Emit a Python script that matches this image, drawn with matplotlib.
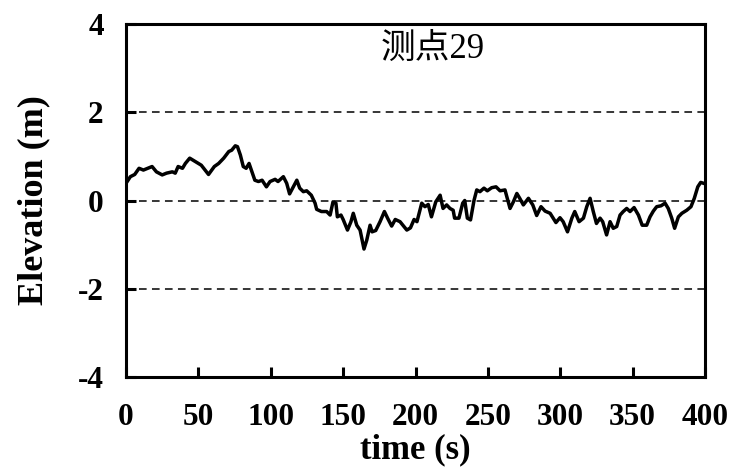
import matplotlib
matplotlib.use('Agg')
import matplotlib.pyplot as plt

# time (s) and elevation (m)
times = [0, 3, 6, 9, 12, 15, 18, 21, 25, 28, 32, 34, 36, 39, 41, 44, 48, 52, 57, 61,
         64, 67.5, 71, 73, 75.5, 77, 79, 81, 83, 85, 87, 89, 91.5, 94, 97, 99.5, 103, 105,
         108.7, 111, 113, 115.6, 118, 120, 122.5, 124.8, 128, 130.6, 131.7, 135, 138.6,
         141, 143, 145, 146, 148.5, 150, 153, 155.4, 157, 159.4, 161.7, 164.4, 166.3,
         168.6, 170, 172.5, 175.5, 178.5, 180.7, 183.5, 186, 189.3, 194, 196.5, 199, 201,
         204.3, 206.5, 208.8, 211, 214, 217, 219, 221.5, 223.8, 226, 227, 230, 232.6, 234,
         235.8, 238, 240.4, 242.3, 244.5, 247.3, 249.6, 252.6, 255.6, 258.4, 261.8, 265.3,
         267.6, 270, 272, 274.5, 278, 281, 283.7, 286.7, 289.5, 293, 297, 299.8, 302, 305,
         308, 310, 313, 316, 318.3, 320.6, 322.8, 325, 327.5, 329.3, 332, 334.4, 336.6,
         339, 341.3, 343.5, 345.9, 348.2, 351, 354, 356.6, 359.7, 362, 364.3, 366.6, 369.6,
         372.4, 374.6, 377, 379, 381.6, 384, 387.4, 390.3, 392.6, 395, 397, 399]
elev = [0.39, 0.54, 0.59, 0.73, 0.69, 0.73, 0.77, 0.65, 0.58, 0.62, 0.65, 0.62, 0.77, 0.73,
        0.84, 0.96, 0.88, 0.80, 0.59, 0.77, 0.84, 0.96, 1.11, 1.14, 1.24, 1.22, 1.03, 0.77,
        0.73, 0.84, 0.65, 0.46, 0.43, 0.46, 0.31, 0.43, 0.48, 0.43, 0.54, 0.39, 0.15, 0.31,
        0.46, 0.28, 0.20, 0.22, 0.12, -0.06, -0.20, -0.25, -0.25, -0.33, -0.03, -0.06,
        -0.37, -0.33, -0.43, -0.67, -0.48, -0.29, -0.56, -0.67, -1.10, -0.90, -0.56, -0.71,
        -0.68, -0.48, -0.25, -0.40, -0.58, -0.43, -0.48, -0.67, -0.62, -0.43, -0.48, -0.06,
        -0.14, -0.09, -0.37, -0.03, 0.12, -0.18, -0.10, -0.18, -0.22, -0.40, -0.40, -0.06,
        0.0, -0.40, -0.44, 0.0, 0.24, 0.20, 0.28, 0.22, 0.29, 0.31, 0.22, 0.24, -0.18,
        -0.03, 0.16, 0.05, -0.10, 0.05, -0.10, -0.34, -0.14, -0.24, -0.29, -0.50, -0.39,
        -0.48, -0.71, -0.40, -0.25, -0.48, -0.40, -0.14, 0.05, -0.25, -0.52, -0.40, -0.48,
        -0.78, -0.48, -0.63, -0.59, -0.33, -0.25, -0.18, -0.25, -0.16, -0.33, -0.56, -0.56,
        -0.37, -0.24, -0.14, -0.12, -0.06, -0.18, -0.40, -0.63, -0.37, -0.29, -0.22, -0.14,
        0.05, 0.31, 0.41, 0.39]

xticks = [0, 50, 100, 150, 200, 250, 300, 350, 400]
yticks = [-4, -2, 0, 2, 4]
grid_levels = [-2, 0, 2]

fig = plt.figure(figsize=(7.47, 4.71), dpi=100)
ax = fig.add_axes([0.1687, 0.1996, 0.7751, 0.7494])

for g in grid_levels:
    ax.axhline(g, color='black', lw=1.1, ls=(0, (5, 3.5)), zorder=1)

ax.plot(times, elev, color='black', lw=2.5, zorder=3)

ax.set_xlim(0, 400)
ax.set_ylim(-4, 4)
ax.set_xticks(xticks)
ax.set_yticks(yticks)

for s in ax.spines.values():
    s.set_linewidth(2.2)
ax.tick_params(direction='in', length=7, width=2.2)

tick_font = dict(family='Liberation Serif', weight='bold', size=22.5)
ax.set_xticklabels([str(v) for v in xticks], fontdict=tick_font)
ax.set_yticklabels([str(v) for v in yticks], fontdict=tick_font)
ax.tick_params(axis='x', pad=19)
ax.tick_params(axis='y', pad=16)

ax.set_xlabel('time (s)', family='Liberation Serif', weight='bold', size=25, labelpad=1)
ax.set_ylabel('Elevation (m)', family='Liberation Serif', weight='bold', size=26, labelpad=20)

ax.text(212, 3.42, '测点29', ha='center', va='center', size=25,
        family=['Liberation Serif', 'Noto Sans CJK SC'])

fig.savefig('out.png', dpi=100)
